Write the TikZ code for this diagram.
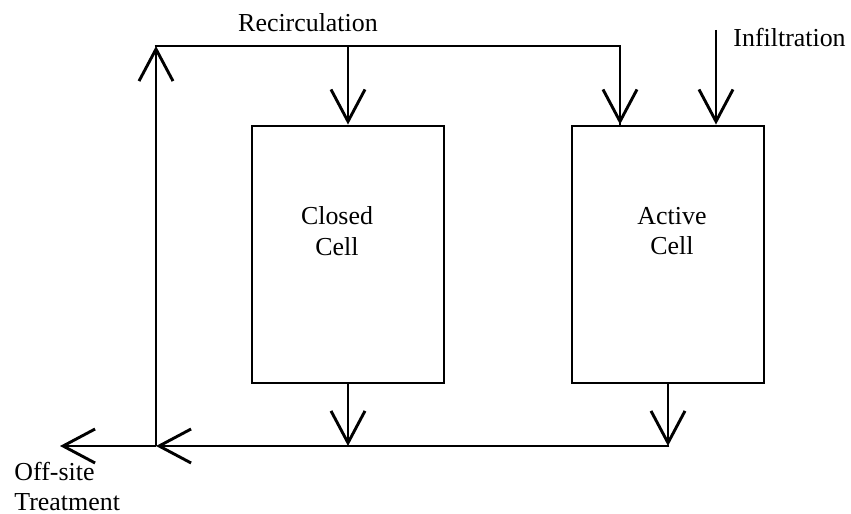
\documentclass[tikz,border=0pt]{standalone}
\usepackage{fontspec}
\setmainfont{Liberation Serif}
\usetikzlibrary{arrows.meta}
\begin{document}
\begin{tikzpicture}[x=1bp,y=-1bp,line width=2.9bp,
  vee/.style={-{Straight Barb[length=32bp,width=34bp]}},
  cell/.style={draw,minimum width=192bp,minimum height=257bp,inner sep=0pt},
  lbl/.style={inner sep=0pt,font=\fontsize{26}{31}\selectfont},
  celltext/.style={lbl,align=center}]
\useasboundingbox (0,0) rectangle (851,514);
% cells
\node[cell] (closed) at (348,254.5) {};
\node[cell] (active) at (668,254.5) {};
\node[celltext] (closedtxt) at (337,231) {Closed\\Cell};
\node[celltext] (activetxt) at (672,231) {Active\\Cell};
% junction coordinates
\coordinate (topleft) at (156,46);
\coordinate (topright) at (620,46);
\coordinate (botjunc) at (156,446);
\coordinate (offsite) at (60,446);
\coordinate (inf) at (716,30);
% labels
\node[lbl,anchor=base] (recirc) at (308,31.5) {Recirculation};
\node[lbl,anchor=base west] (infil) at (732,46.5) {Infiltration};
\node[lbl,anchor=base west,align=left] (offtxt) at (13,480) {Off-site};
\node[lbl,anchor=base west,align=left] (treat) at (13,510) {Treatment};
% recirculation loop
\draw[vee] (botjunc) -- (topleft);
\draw[line join=miter] ([xshift=-1.45bp]topleft) -- (topright) -- (topright |- active.north);
\draw[vee] (topright) -- (topright |- active.north);
\draw[vee] (closed.north |- topleft) -- (closed.north);
\draw[vee] (inf) -- (inf |- active.north);
% outflows
\draw[vee] (closed.south) -- (closed.south |- botjunc);
\draw[vee] (active.south) -- (active.south |- botjunc);
\draw[vee] ([xshift=1.45bp]active.south |- botjunc) -- (botjunc);
\draw[vee] (botjunc) -- (offsite);
\end{tikzpicture}
\end{document}
